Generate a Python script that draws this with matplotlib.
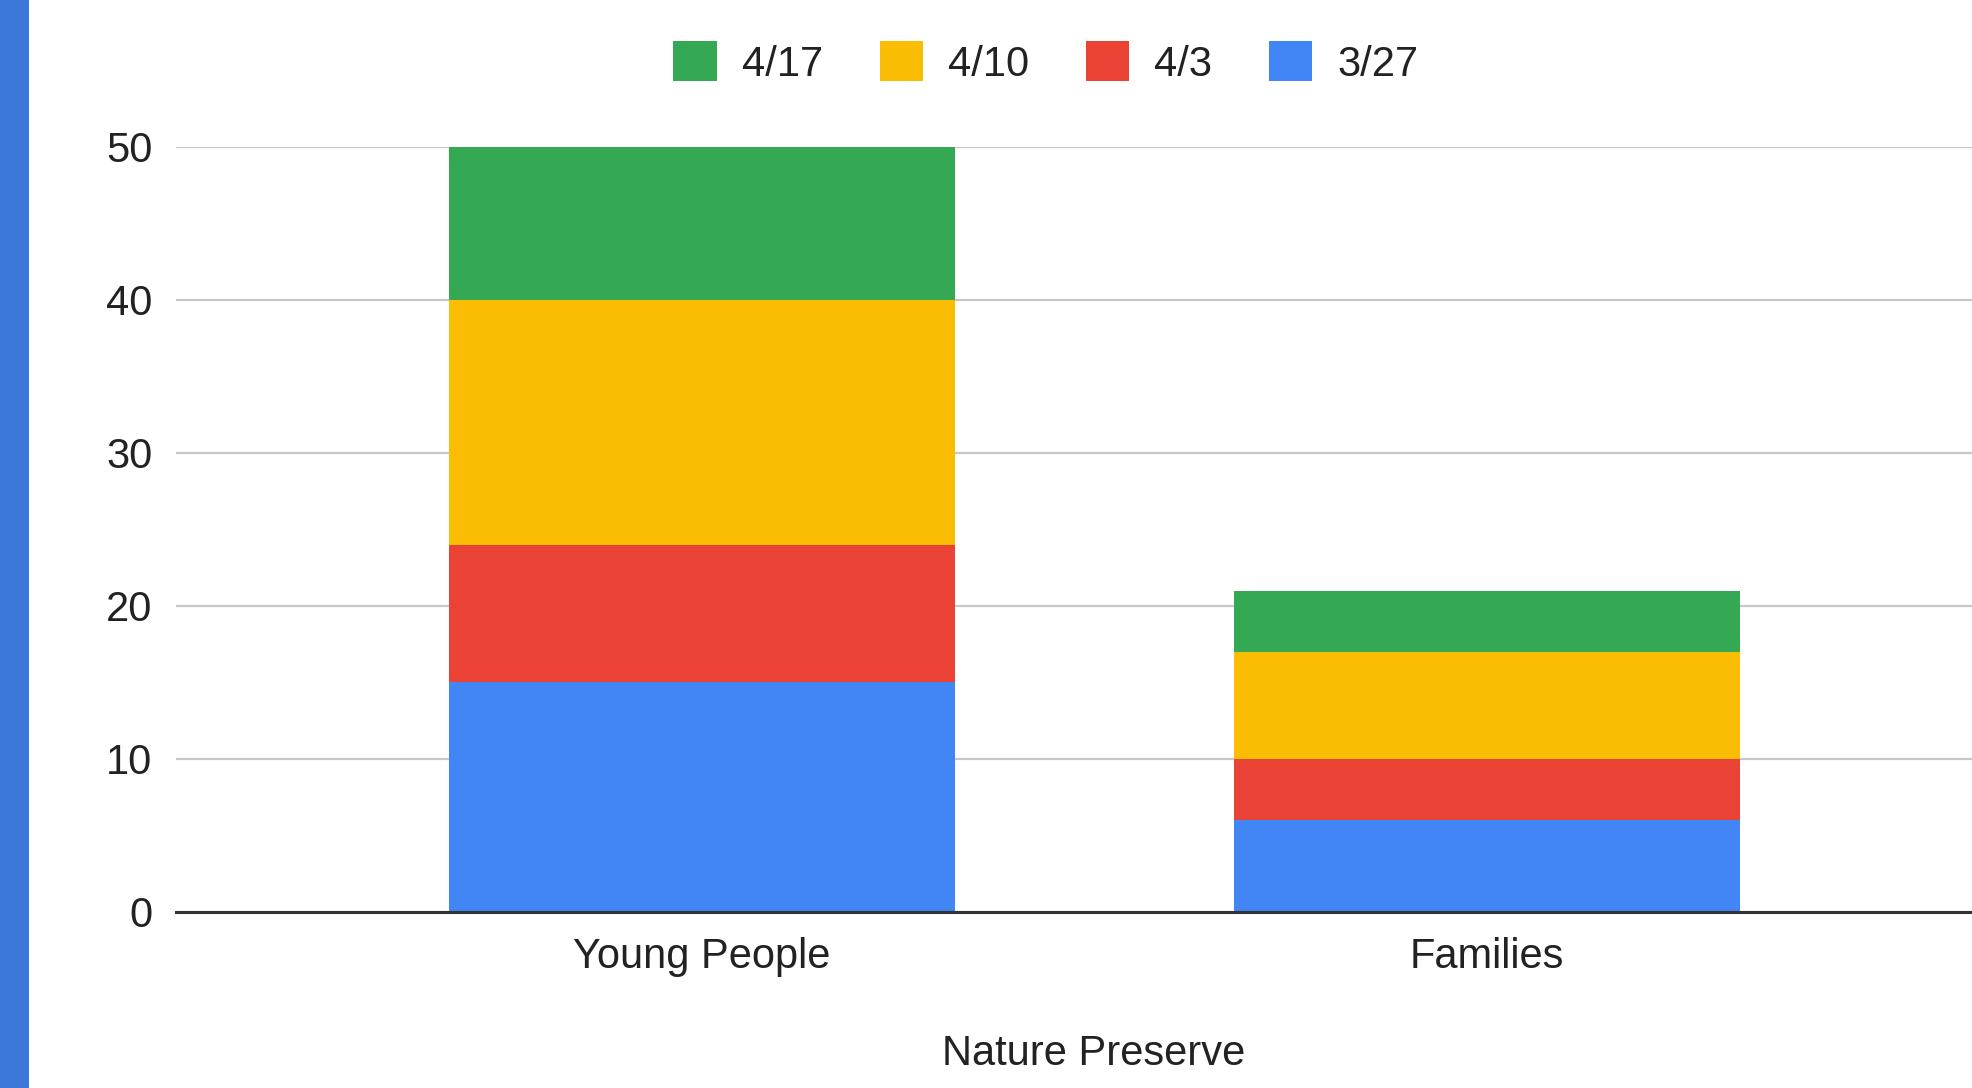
import matplotlib.pyplot as plt
from matplotlib.patches import Patch, Rectangle
import numpy as np

plt.rcParams['font.family'] = ['Liberation Sans', 'DejaVu Sans']

# data
categories = ["Young People", "Families"]
series_names = ["3/27", "4/3", "4/10", "4/17"]
vals_3_27 = [15, 6]
vals_4_3 = [9, 4]
vals_4_10 = [16, 7]
vals_4_17 = [10, 4]
y_ticks = [0, 10, 20, 30, 40, 50]

colors = ["#4285F4", "#EA4335", "#FBBC04", "#34A853"]
series = [vals_3_27, vals_4_3, vals_4_10, vals_4_17]

fig = plt.figure(figsize=(19.72, 10.88), dpi=100)
ax = fig.add_axes([0.0892, 0.1618, 1 - 0.0892, 0.8649 - 0.1618])

x = np.arange(len(categories))
bottom = np.zeros(len(categories))
for vals, col in zip(series, colors):
    ax.bar(x, vals, width=0.645, bottom=bottom, color=col, zorder=3)
    bottom += np.array(vals)

ax.set_xlim(-0.67, 1.618)
ax.set_ylim(0, 50)
ax.set_yticks(y_ticks)
ax.set_xticks(x)
ax.set_xticklabels(categories)
ax.tick_params(axis='both', length=0, labelsize=30, colors='#222222')
ax.tick_params(axis='y', pad=17)
ax.tick_params(axis='x', pad=18)
ax.grid(axis='y', color='#C8C8C8', linewidth=1.6, zorder=0)
for s in ['top', 'right', 'left']:
    ax.spines[s].set_visible(False)
ax.spines['bottom'].set_color('#333333')
ax.spines['bottom'].set_linewidth(2.2)
ax.spines['bottom'].set_zorder(4)

fig.text(1094 / 1972, 1 - 1054 / 1088, "Nature Preserve", fontsize=30,
         color='#222222', ha='center', va='center')

# legend, newest week first like the original
handles = [Patch(facecolor=c) for c in colors[::-1]]
fig.legend(handles, series_names[::-1], loc='center', ncol=4,
           bbox_to_anchor=(1046 / 1972, 1 - 63 / 1088), frameon=False,
           fontsize=30, handlelength=1.05, handleheight=1.1,
           handletextpad=0.6, columnspacing=1.35, labelcolor='#222222')

# blue strip down the left edge
fig.patches.append(Rectangle((0, 0), 29 / 1972, 1, transform=fig.transFigure,
                             facecolor='#3C78D8', edgecolor='none'))

fig.savefig("out.png", dpi=100)
